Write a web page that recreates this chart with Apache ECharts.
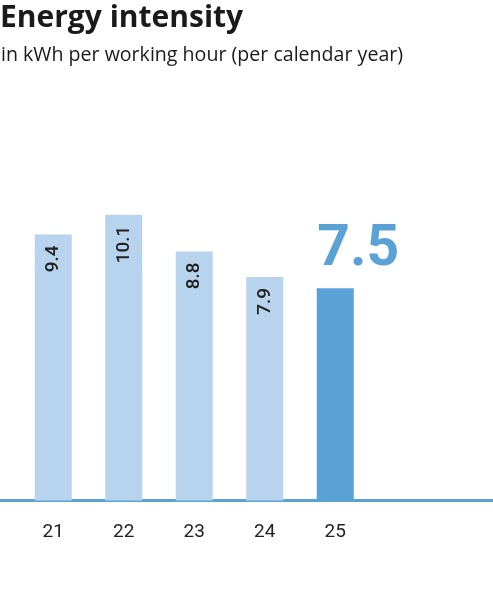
<!DOCTYPE html>
<html>
<head>
<meta charset="utf-8">
<script src="https://cdn.jsdelivr.net/npm/echarts@6/dist/echarts.min.js"></script>
<style>
  html, body { margin: 0; padding: 0; background: #fff; }
  #chart { width: 493px; height: 611px; }
</style>
</head>
<body>
<div id="chart"></div>
<script>
const years = ["21", "22", "23", "24", "25", ""];
const intensity = [9.4, 10.1, 8.8, 7.9, 7.5];

const lightBlue = "#b8d3ed";
const blue = "#5aa2d6";

const chart = echarts.init(document.getElementById("chart"));

const barData = intensity.map((v, i) => {
  if (i === intensity.length - 1) {
    return {
      value: v,
      itemStyle: { color: blue },
      label: {
        rotate: 0,
        position: "top",
        align: "center",
        verticalAlign: "bottom",
        distance: 8,
        offset: [23, -1],
        fontSize: 57,
        fontWeight: "bold",
        color: blue,
      },
    };
  }
  return { value: v };
});

chart.setOption({
  animation: false,
  title: [
    {
      text: "Energy intensity",
      left: 0,
      top: 3,
      textStyle: {
        fontFamily: "Open Sans",
        fontSize: 30,
        fontWeight: "bold",
        color: "#1a1a1a",
      },
      padding: 0,
    },
    {
      text: "in kWh per working hour (per calendar year)",
      left: 1,
      top: 45,
      textStyle: {
        fontFamily: "Open Sans",
        fontSize: 19.6,
        fontWeight: "normal",
        color: "#1a1a1a",
      },
      padding: 0,
    },
  ],
  grid: [
    { left: 18, right: 52, top: 160.9, bottom: 110.5 },
    { left: 0, right: 0, top: 160.9, bottom: 110.5 },
  ],
  xAxis: [
    {
      type: "category",
      gridIndex: 0,
      data: years,
      axisLine: { show: false },
      axisTick: { show: false },
      axisLabel: {
        margin: 22,
        fontFamily: "Roboto",
        fontSize: 19,
        color: "#222",
      },
    },
    {
      type: "category",
      gridIndex: 1,
      data: [""],
      axisLine: { show: true, lineStyle: { color: blue, width: 3 } },
      axisTick: { show: false },
      axisLabel: { show: false },
    },
  ],
  yAxis: [
    { type: "value", gridIndex: 0, min: 0, max: 12, show: false },
    { type: "value", gridIndex: 1, min: 0, max: 12, show: false },
  ],
  series: [
    {
      type: "bar",
      xAxisIndex: 0,
      yAxisIndex: 0,
      data: barData,
      barWidth: 37,
      itemStyle: { color: lightBlue },
      label: {
        show: true,
        position: "insideTop",
        rotate: 90,
        align: "right",
        verticalAlign: "middle",
        distance: 11,
        fontFamily: "Roboto",
        fontSize: 19,
        fontWeight: 500,
        color: "#222",
        formatter: (p) => p.value.toFixed(1),
      },
    },
  ],
});

window.addEventListener("resize", () => {
  chart.resize();
});
</script>
</body>
</html>
